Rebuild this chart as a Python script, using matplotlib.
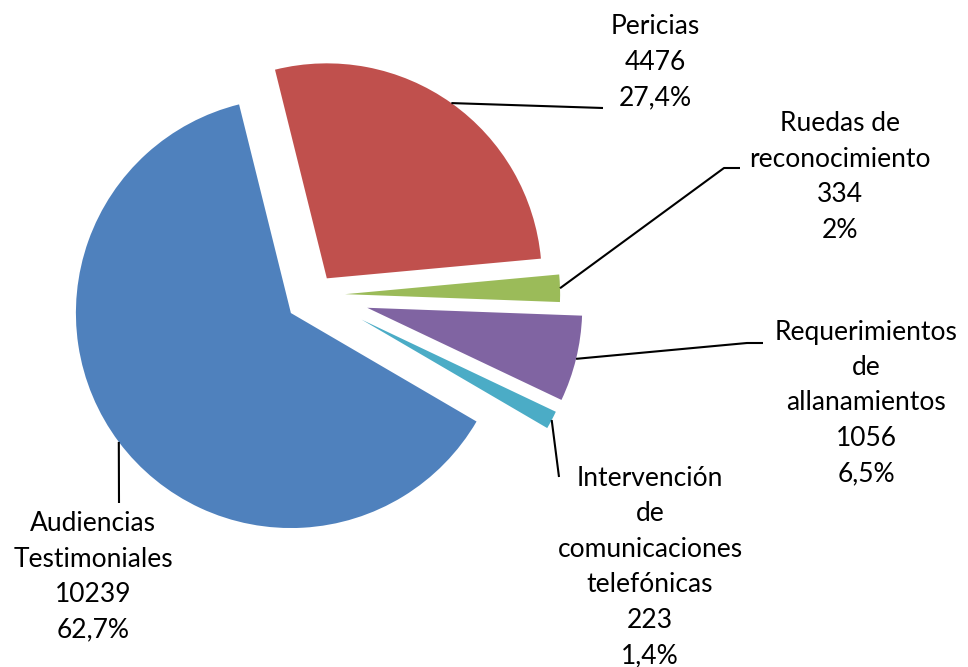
import matplotlib
matplotlib.use("Agg")
import matplotlib.pyplot as plt
import numpy as np

# data
categories = ["Audiencias\nTestimoniales", "Pericias", "Ruedas de\nreconocimiento",
              "Requerimientos\nde\nallanamientos",
              "Intervención\nde\ncomunicaciones\ntelefónicas"]
values = [10239, 4476, 334, 1056, 223]
pct_labels = ["62,7%", "27,4%", "2%", "6,5%", "1,4%"]

colors = ["#4F81BD", "#C0504D", "#9BBB59", "#8064A2", "#4BACC6"]
explode = [0.14, 0.095, 0.14, 0.25, 0.245]  # as fraction of radius

W, H = 968, 667
R = 215
# label block centres and leader line bends, in picture pixels (y from top)
label_pos = [(93, 577), (655, 62), (840, 177), (866, 403), (650, 567)]
leader_pts = [[(119, 503)],
              [(603, 108)],
              [(724, 168), (740, 168)],
              [(747, 343), (763, 343)],
              [(559, 477)]]

plt.rcParams["font.family"] = ["Lato", "DejaVu Sans"]

fig = plt.figure(figsize=(W / 100, H / 100), dpi=100)
ax = fig.add_axes([0, 0, 1, 1])

wedges, _ = ax.pie(values, explode=[e * R for e in explode], colors=colors,
                   startangle=-30.3, counterclock=False,
                   center=(315, H - 295), radius=R,
                   wedgeprops=dict(linewidth=0))

# pie() resets the limits, so put the pixel frame back afterwards
ax.set_xlim(0, W)
ax.set_ylim(0, H)
ax.set_aspect("equal")
ax.axis("off")

for i, w in enumerate(wedges):
    mid = np.deg2rad((w.theta1 + w.theta2) / 2)
    cx, cy = w.center
    sx, sy = cx + w.r * np.cos(mid), cy + w.r * np.sin(mid)
    xs = [sx] + [p[0] for p in leader_pts[i]]
    ys = [sy] + [H - p[1] for p in leader_pts[i]]
    ax.plot(xs, ys, color="black", lw=1.5, solid_capstyle="butt")
    txt = f"{categories[i]}\n{values[i]}\n{pct_labels[i]}"
    lx, ly = label_pos[i]
    ax.text(lx, H - ly, txt, ha="center", va="center", multialignment="center",
            fontsize=19, linespacing=1.52, color="black")

fig.savefig("out.png", dpi=100)
